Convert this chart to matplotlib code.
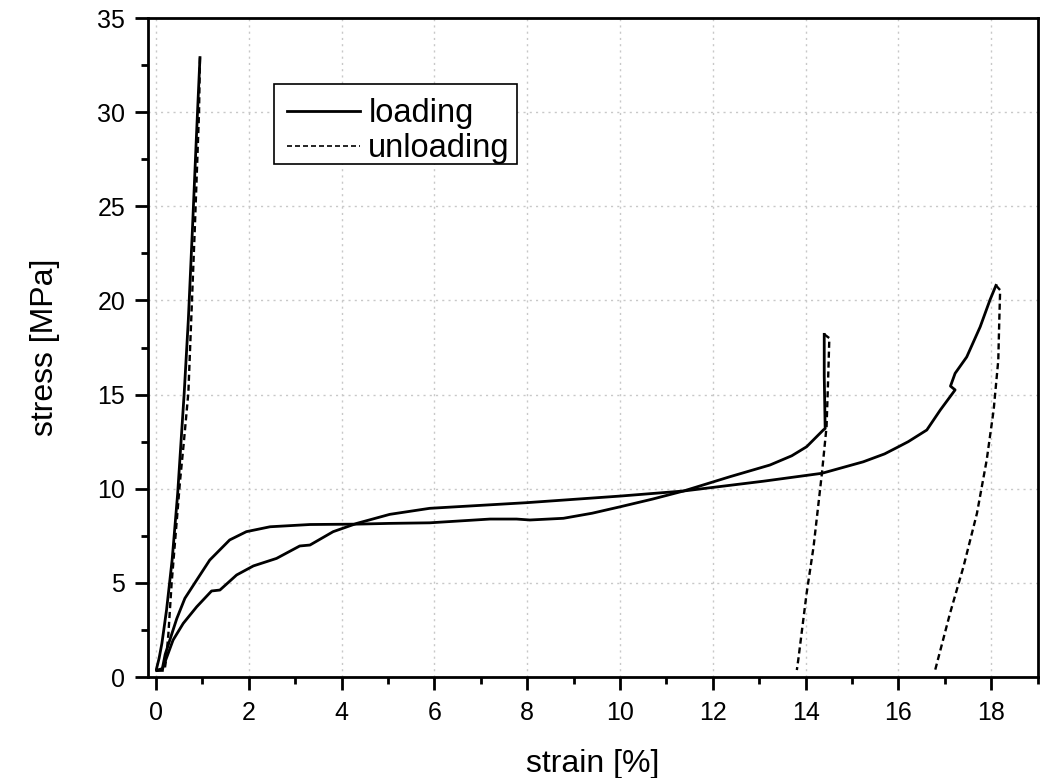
import matplotlib
matplotlib.use("Agg")
import matplotlib.pyplot as plt
from matplotlib.lines import Line2D
from matplotlib.patches import Rectangle
from matplotlib.ticker import MultipleLocator

plt.rcParams['font.family'] = ['Liberation Sans', 'DejaVu Sans']

# Sample A (steep, brittle) loading / unloading
a_load_x = [0.14, 0.02, 0.01, 0.07, 0.13, 0.23, 0.35, 0.47, 0.61, 0.70, 0.79, 0.87, 0.95]
a_load_y = [0.35, 0.35, 0.40, 1.0, 1.79, 3.56, 6.21, 9.76, 15.07, 19.0, 23.91, 28.5, 32.9]
a_unl_x = [0.95, 0.93, 0.84, 0.70, 0.60, 0.52, 0.42, 0.34, 0.27, 0.22, 0.19]
a_unl_y = [32.9, 30.0, 23.9, 15.1, 12.4, 10.4, 7.4, 5.0, 2.3, 0.9, 0.4]

# Sample B (unloaded at ~14.4 %)
b_load_x = [0.02, 0.14, 0.20, 0.30, 0.45, 0.625, 0.88, 1.16, 1.59, 1.95, 2.46, 3.32, 4.33,
            5.04, 5.9, 7.2, 7.77, 8.06, 8.78, 9.4, 10.0, 10.7, 11.37, 12.37, 13.23, 13.7,
            14.02, 14.38, 14.42, 14.40, 14.40]
b_load_y = [0.35, 0.45, 1.2, 1.96, 3.1, 4.18, 5.15, 6.21, 7.28, 7.72, 7.98, 8.10, 8.12,
            8.16, 8.19, 8.39, 8.39, 8.34, 8.43, 8.7, 9.04, 9.45, 9.88, 10.64, 11.26, 11.75,
            12.23, 13.12, 13.2, 16.0, 18.2]
b_unl_x = [14.40, 14.51, 14.48, 14.45, 14.35, 14.17, 14.02, 13.84, 13.81]
b_unl_y = [18.2, 18.0, 15.5, 13.3, 10.82, 6.92, 4.44, 0.9, 0.37]

# Sample C (unloaded at ~18.1 %)
c_load_x = [0.02, 0.14, 0.16, 0.37, 0.59, 0.88, 1.20, 1.38, 1.74, 2.10, 2.60,
            3.10, 3.32, 3.82, 4.33, 5.04, 5.90, 7.99, 10.0, 11.37, 13.09, 14.35,
            15.24, 15.7, 16.0, 16.21, 16.61, 16.9, 17.22, 17.12, 17.22, 17.47, 17.76,
            17.97, 18.1]
c_load_y = [0.35, 0.40, 0.55, 1.96, 2.85, 3.73, 4.57, 4.62, 5.42, 5.90, 6.30,
            6.96, 7.01, 7.72, 8.16, 8.64, 8.96, 9.26, 9.61, 9.88, 10.40, 10.82,
            11.43, 11.85, 12.23, 12.50, 13.12, 14.18, 15.25, 15.45, 16.13, 17.0, 18.6,
            20.02, 20.8]
c_unl_x = [18.1, 18.19, 18.17, 18.15, 18.05, 17.90, 17.69, 17.40, 17.11, 16.79]
c_unl_y = [20.8, 20.55, 18.8, 16.83, 14.18, 11.52, 8.69, 5.86, 3.38, 0.37]

x_ticks = [0, 2, 4, 6, 8, 10, 12, 14, 16, 18]
y_ticks = [0, 5, 10, 15, 20, 25, 30, 35]

fig = plt.figure(figsize=(10.44, 7.78), dpi=100)
ax = fig.add_axes([0.1413, 0.1298, 0.8527, 0.8470])

solid_kw = dict(color='black', lw=2.0, solid_joinstyle='round')
dash_kw = dict(color='black', lw=1.7, dashes=(2.6, 1.6))

for xs, ys in [(a_load_x, a_load_y), (b_load_x, b_load_y), (c_load_x, c_load_y)]:
    ax.plot(xs, ys, **solid_kw)
for xs, ys in [(a_unl_x, a_unl_y), (b_unl_x, b_unl_y), (c_unl_x, c_unl_y)]:
    ax.plot(xs, ys, **dash_kw)

ax.set_xlim(-0.18, 19.0)
ax.set_ylim(0, 35)
ax.set_xticks(x_ticks)
ax.set_yticks(y_ticks)
ax.xaxis.set_minor_locator(MultipleLocator(1))
ax.yaxis.set_minor_locator(MultipleLocator(2.5))
ax.grid(True, which='major', color='#c8c8c8', linestyle=(0, (1.5, 3)), lw=1.0)
ax.set_axisbelow(True)

for s in ax.spines.values():
    s.set_linewidth(2.0)
ax.tick_params(which='major', direction='out', length=9.5, width=2.0,
               labelsize=18)
ax.tick_params(axis='x', which='major', pad=8)
ax.tick_params(axis='y', which='major', pad=6.5)
ax.tick_params(which='minor', direction='out', length=5, width=2.0)

ax.set_xlabel('strain [%]', fontsize=23, labelpad=17)
ax.set_ylabel('stress [MPa]', fontsize=23, labelpad=27)

# legend box
ax.add_patch(Rectangle((0.1421, 0.7785), 0.273, 0.1214, transform=ax.transAxes,
                       facecolor='white', edgecolor='black', lw=1.2, zorder=4))
handles = [Line2D([], [], color='black', lw=2.0),
           Line2D([], [], color='black', lw=1.2, dashes=(3, 1.8))]
leg = ax.legend(handles, ['loading', 'unloading'], loc='upper left',
                bbox_to_anchor=(0.1564, 0.878), borderaxespad=0, fontsize=23.5,
                frameon=False, handlelength=2.25, handletextpad=0.25,
                labelspacing=0.12, borderpad=0)
leg.set_zorder(5)

fig.savefig('out.png', dpi=100)
